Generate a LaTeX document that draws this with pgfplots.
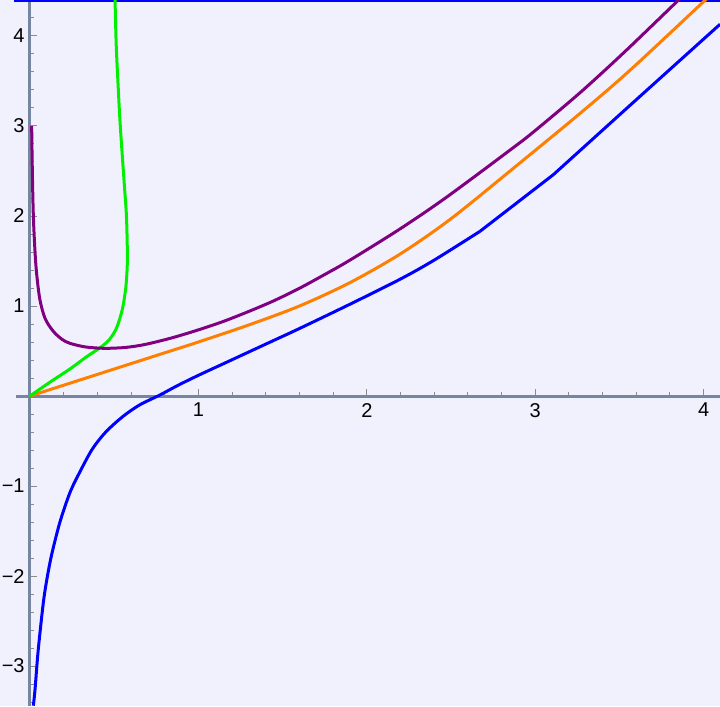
\documentclass[border=0pt]{standalone}
\usepackage{pgfplots}
\pgfplotsset{compat=1.18}
\usepackage{fontspec}
\setmainfont{Liberation Sans}
\definecolor{bg}{RGB}{241,241,253}
\definecolor{axc}{RGB}{118,134,160}
\definecolor{tickc}{RGB}{140,140,140}
\definecolor{mblue}{RGB}{0,0,255}
\definecolor{morange}{RGB}{255,128,0}
\definecolor{mpurple}{RGB}{128,0,128}
\definecolor{mgreen}{RGB}{0,240,0}
\begin{document}
\begin{tikzpicture}
\begin{axis}[
 scale only axis, width=360pt, height=353pt,
 xmin=-0.178, xmax=4.097, ymin=-3.444, ymax=4.4,
 axis lines=middle,
 axis line style={draw=axc, line width=1.5pt, -},
 every inner x axis line/.append style={-},
 every inner y axis line/.append style={-},
 x axis line style={shorten <=7.8pt},
 axis background/.style={fill=bg},
 xtick={0,1,2,3,4}, ytick={-3,-2,-1,0,1,2,3,4},
 xticklabels={,1,2,3,4}, yticklabels={−3,−2,−1,,1,2,3,4},
 minor x tick num=4, minor y tick num=4,
 extra y ticks={-3.4,-3.2,4.2,4.4}, extra y tick labels={},
 extra y tick style={major tick length=2pt},
 tick align=inside,
 major tick length=3.5pt, minor tick length=2pt,
 tick style={draw=tickc, line width=0.5pt},
 tick label style={font=\fontsize{10}{12}\selectfont},
 yticklabel style={inner sep=2.5pt},
 clip mode=individual,
]
\coordinate (SW) at (rel axis cs:0,0);
\coordinate (NE) at (rel axis cs:1,1);
\addplot[mblue, line width=1.1pt] coordinates {(-0.095,4.389) (4.097,4.389)};
\addplot[mblue, line width=1.5pt, smooth] coordinates {
(0.020,-3.44) (0.030,-3.26) (0.049,-2.82) (0.079,-2.30) (0.10,-2.04) (0.129,-1.76)
(0.178,-1.40) (0.238,-1.07) (0.30,-0.83) (0.37,-0.59) (0.45,-0.40) (0.55,-0.23)
(0.65,-0.10) (0.77,0.01) (0.88,0.12) (1.0,0.23) (1.15,0.36) (1.3,0.49) (1.45,0.62)
(1.6,0.75) (1.9,1.02) (2.2,1.30) (2.4,1.51) (2.672,1.83)};
\addplot[mblue, line width=1.5pt] coordinates {
(2.672,1.83) (3.108,2.46) (3.563,3.23) (4.097,4.13)};
\addplot[morange, line width=1.5pt, smooth] coordinates {
(0,0) (0.2,0.12) (0.4,0.24) (0.6,0.36) (0.8,0.48) (1.0,0.60) (1.3,0.79) (1.6,1.00)
(1.9,1.26) (2.2,1.58) (2.5,1.97) (2.87,2.53) (3.266,3.14) (3.563,3.62)
(4.01,4.40) (4.1,4.56)};
\addplot[mgreen, line width=1.5pt, smooth] coordinates {
(0,0) (0.069,0.09) (0.138,0.178) (0.237,0.30) (0.337,0.437) (0.426,0.55)
(0.475,0.635) (0.515,0.76) (0.548,0.96) (0.568,1.19) (0.577,1.42) (0.578,1.62)
(0.573,1.99) (0.562,2.3) (0.547,2.7) (0.533,3.1) (0.522,3.5) (0.512,3.9) (0.505,4.4) (0.503,4.5)};
\addplot[mpurple, line width=1.5pt, smooth] coordinates {
(0.010,3.0) (0.014,2.5) (0.020,2.0) (0.03,1.6) (0.04,1.35) (0.059,1.07) (0.09,0.86)
(0.138,0.72) (0.19,0.63) (0.238,0.585) (0.33,0.545) (0.44,0.53) (0.55,0.537)
(0.634,0.556) (0.713,0.585) (0.85,0.65) (1.0,0.735) (1.15,0.83) (1.306,0.945)
(1.45,1.06) (1.603,1.20) (1.75,1.35) (1.90,1.51) (2.2,1.86) (2.474,2.21) (2.87,2.76)
(3.0,2.95) (3.266,3.37) (3.523,3.81) (3.84,4.38) (3.9,4.49)};
\end{axis}
\pgfresetboundingbox
\path (SW) rectangle (NE);
\end{tikzpicture}
\end{document}
